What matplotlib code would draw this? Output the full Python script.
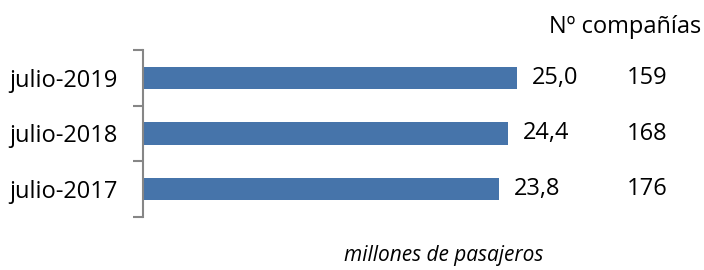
import matplotlib.pyplot as plt
from matplotlib.transforms import blended_transform_factory

# datos
periodos = ["julio-2017", "julio-2018", "julio-2019"]
pasajeros = [23.8, 24.4, 25.0]
companias = [176, 168, 159]

bar_color = "#4674AA"
axis_color = "#868686"
plt.rcParams["font.family"] = ["Open Sans", "DejaVu Sans"]

fig = plt.figure(figsize=(7.04, 2.70), dpi=100)
ax = fig.add_axes([143 / 704, 53 / 270, 449 / 704, 167 / 270])

pos = range(len(periodos))
ax.barh(pos, pasajeros, height=0.4, color=bar_color)
ax.set_xlim(0, 30)
ax.set_ylim(-0.5, len(periodos) - 0.5)

# etiquetas de valor y numero de companias
tr = blended_transform_factory(fig.transFigure, ax.transData)
for i, (v, c) in enumerate(zip(pasajeros, companias)):
    ax.annotate(f"{v:.1f}".replace(".", ","), (v, i), xytext=(10.5, 0),
                textcoords="offset points", ha="left", va="center", fontsize=17)
    ax.text(627 / 704, i, str(c), transform=tr, ha="left", va="center", fontsize=17)

fig.text(701 / 704, 1 - 27 / 270, "Nº compañías", ha="right", va="center", fontsize=17)
fig.text(444 / 704, 1 - 256 / 270, "millones de pasajeros", ha="center", va="center",
         fontsize=15, style="italic")

# eje vertical con marcas entre categorias
for s in ["top", "right", "bottom"]:
    ax.spines[s].set_visible(False)
ax.spines["left"].set_color(axis_color)
ax.spines["left"].set_linewidth(1.5)
ax.set_xticks([])
ax.set_yticks(list(pos))
ax.set_yticklabels(periodos, fontsize=17)
ax.tick_params(axis="y", which="major", length=0, pad=18)
ax.set_yticks([-0.5, 0.5, 1.5, 2.5], minor=True)
ax.tick_params(axis="y", which="minor", length=7, width=1.5, color=axis_color)

fig.savefig("out.png", dpi=100)
